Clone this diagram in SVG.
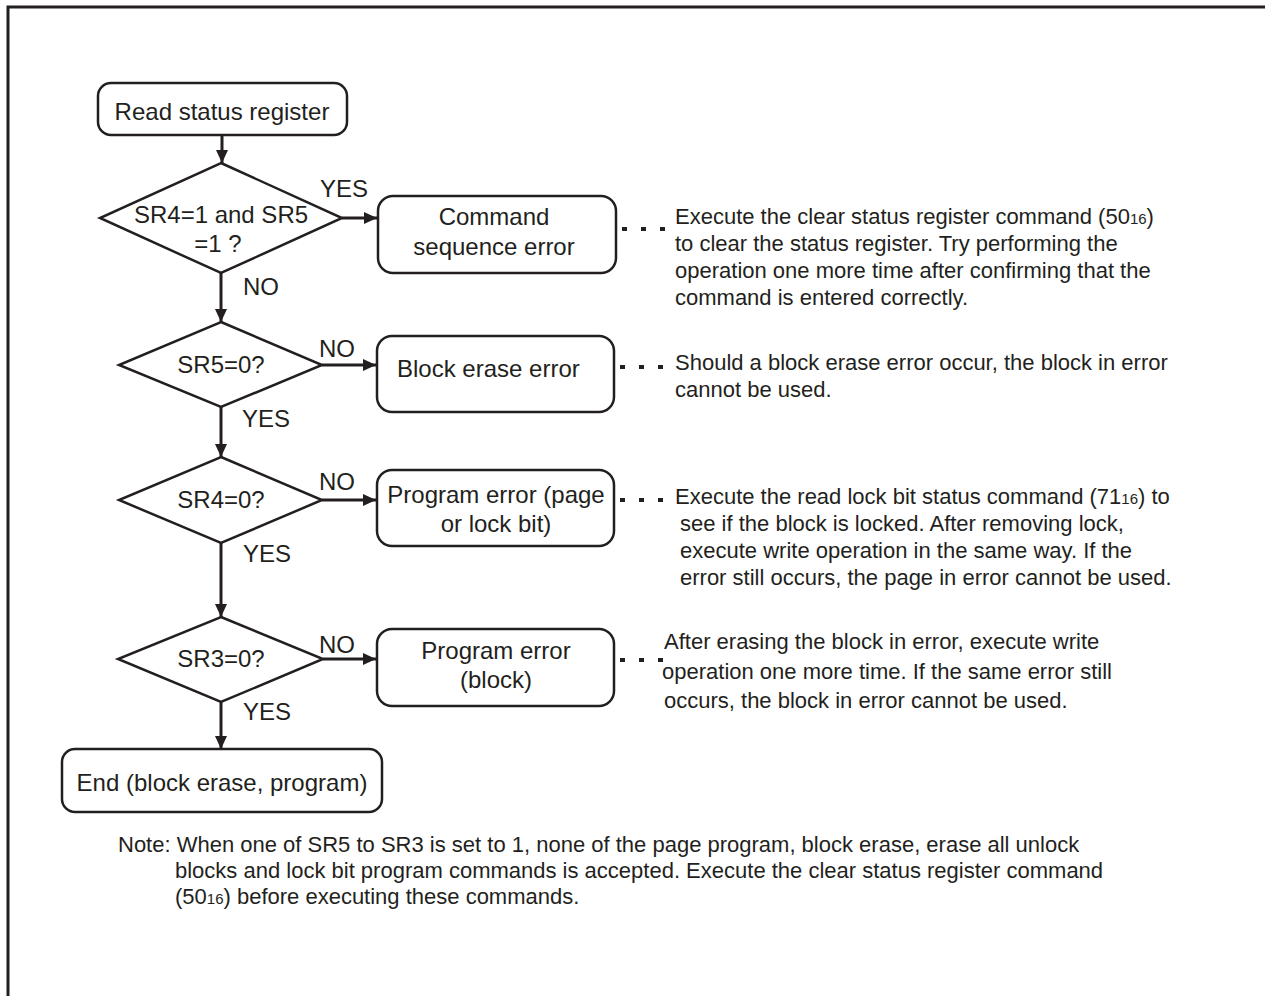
<svg xmlns="http://www.w3.org/2000/svg" width="1265" height="996" viewBox="0 0 1265 996">
<style>
  .box{fill:#fff;stroke:#231f20;stroke-width:2.5}
  .dia{fill:#fff;stroke:#231f20;stroke-width:2.5}
  .lbl{font-family:"Liberation Sans",Arial,sans-serif;font-size:24px;fill:#231f20}
  .ctr{text-anchor:middle}
  .desc{font-family:"Liberation Sans",Arial,sans-serif;font-size:22px;fill:#231f20}
  .sub{font-size:15px}
  .conn{stroke:#231f20;stroke-width:3;fill:none}
  .dots{stroke:#231f20;stroke-width:4;stroke-dasharray:5 14;fill:none}
</style>
<defs>
  <marker id="ah" markerUnits="userSpaceOnUse" markerWidth="14" markerHeight="12" refX="13" refY="6" orient="auto">
    <path d="M0,0 L13,6 L0,12 z" fill="#231f20"/>
  </marker>
</defs>
<rect x="0" y="0" width="1265" height="996" fill="#fff"/>
<path d="M8,996 V7 H1265" fill="none" stroke="#231f20" stroke-width="3"/>

<g id="connectors">
  <line class="conn" x1="222" y1="135" x2="222" y2="163" marker-end="url(#ah)"/>
  <line class="conn" x1="342" y1="218" x2="377" y2="218" marker-end="url(#ah)"/>
  <line class="conn" x1="221" y1="273" x2="221" y2="322" marker-end="url(#ah)"/>
  <line class="conn" x1="322" y1="365" x2="376" y2="365" marker-end="url(#ah)"/>
  <line class="conn" x1="221" y1="407" x2="221" y2="457" marker-end="url(#ah)"/>
  <line class="conn" x1="322" y1="500" x2="376" y2="500" marker-end="url(#ah)"/>
  <line class="conn" x1="221" y1="543" x2="221" y2="617" marker-end="url(#ah)"/>
  <line class="conn" x1="323" y1="659" x2="376" y2="659" marker-end="url(#ah)"/>
  <line class="conn" x1="221" y1="702" x2="221" y2="749" marker-end="url(#ah)"/>
  <line class="dots" x1="622" y1="229" x2="665" y2="229"/>
  <line class="dots" x1="620" y1="367" x2="663" y2="367"/>
  <line class="dots" x1="620" y1="500" x2="663" y2="500"/>
  <line class="dots" x1="620" y1="660" x2="663" y2="660"/>
  <text class="lbl" x="320" y="197">YES</text>
  <text class="lbl" x="243" y="295">NO</text>
  <text class="lbl" x="319" y="357">NO</text>
  <text class="lbl" x="242" y="427">YES</text>
  <text class="lbl" x="319" y="490">NO</text>
  <text class="lbl" x="243" y="562">YES</text>
  <text class="lbl" x="319" y="653">NO</text>
  <text class="lbl" x="243" y="720">YES</text>
</g>

<g id="start">
  <rect class="box" x="98" y="83" width="249" height="52" rx="13"/>
  <text class="lbl ctr" x="222" y="120">Read status register</text>
</g>

<g id="dec1">
  <polygon class="dia" points="221,163 342,218 221,273 100,218"/>
  <text class="lbl ctr" x="221" y="223">SR4=1 and SR5</text>
  <text class="lbl ctr" x="218" y="252">=1 ?</text>
</g>

<g id="err1">
  <rect class="box" x="378" y="196" width="238" height="77" rx="15"/>
  <text class="lbl ctr" x="494" y="225">Command</text>
  <text class="lbl ctr" x="494" y="255">sequence error</text>
</g>

<g id="dec2">
  <polygon class="dia" points="221,322 322,365 221,407 119,365"/>
  <text class="lbl ctr" x="221" y="373">SR5=0?</text>
</g>

<g id="err2">
  <rect class="box" x="377" y="336" width="237" height="76" rx="15"/>
  <text class="lbl" x="397" y="377">Block erase error</text>
</g>

<g id="dec3">
  <polygon class="dia" points="221,457 322,500 221,543 119,500"/>
  <text class="lbl ctr" x="221" y="508">SR4=0?</text>
</g>

<g id="err3">
  <rect class="box" x="377" y="470" width="237" height="76" rx="15"/>
  <text class="lbl ctr" x="496" y="503">Program error (page</text>
  <text class="lbl ctr" x="496" y="532">or lock bit)</text>
</g>

<g id="dec4">
  <polygon class="dia" points="221,617 323,659 221,702 118,659"/>
  <text class="lbl ctr" x="221" y="667">SR3=0?</text>
</g>

<g id="err4">
  <rect class="box" x="377" y="629" width="237" height="77" rx="15"/>
  <text class="lbl ctr" x="496" y="659">Program error</text>
  <text class="lbl ctr" x="496" y="688">(block)</text>
</g>

<g id="end">
  <rect class="box" x="62" y="749" width="320" height="63" rx="13"/>
  <text class="lbl ctr" x="222" y="791">End (block erase, program)</text>
</g>

<g id="note1">
  <text class="desc" x="675" y="224">Execute the clear status register command (50<tspan class="sub">16</tspan>)</text>
  <text class="desc" x="675" y="251">to clear the status register. Try performing the</text>
  <text class="desc" x="675" y="278">operation one more time after confirming that the</text>
  <text class="desc" x="675" y="305">command is entered correctly.</text>
</g>

<g id="note2">
  <text class="desc" x="675" y="370">Should a block erase error occur, the block in error</text>
  <text class="desc" x="675" y="397">cannot be used.</text>
</g>

<g id="note3">
  <text class="desc" x="675" y="504">Execute the read lock bit status command (71<tspan class="sub">16</tspan>) to</text>
  <text class="desc" x="680" y="531">see if the block is locked. After removing lock,</text>
  <text class="desc" x="680" y="558">execute write operation in the same way. If the</text>
  <text class="desc" x="680" y="585">error still occurs, the page in error cannot be used.</text>
</g>

<g id="note4">
  <text class="desc" x="664" y="649">After erasing the block in error, execute write</text>
  <text class="desc" x="662" y="679">operation one more time. If the same error still</text>
  <text class="desc" x="664" y="708">occurs, the block in error cannot be used.</text>
</g>

<g id="footnote">
  <text class="desc" x="118" y="852">Note: When one of SR5 to SR3 is set to 1, none of the page program, block erase, erase all unlock</text>
  <text class="desc" x="175" y="878">blocks and lock bit program commands is accepted. Execute the clear status register command</text>
  <text class="desc" x="175" y="904">(50<tspan class="sub">16</tspan>) before executing these commands.</text>
</g>
</svg>
